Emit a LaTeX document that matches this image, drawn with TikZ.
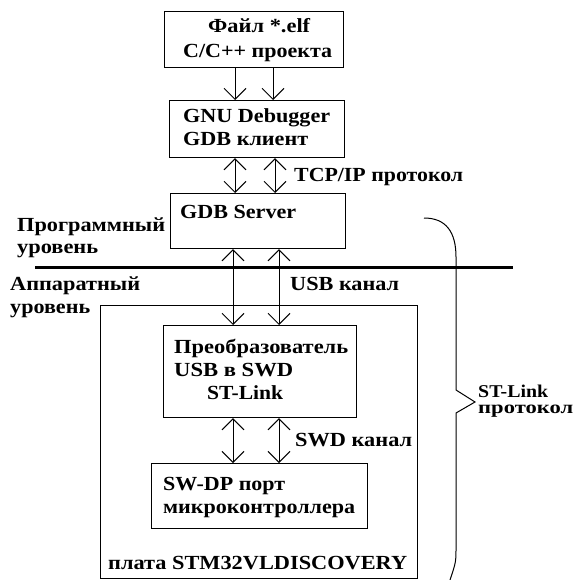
\documentclass[tikz,border=0pt]{standalone}
\usepackage{fontspec}
\usepackage{graphicx}
\setmainfont{Liberation Serif}
\usetikzlibrary{arrows.meta}
\newcommand\fitw[2]{\resizebox{#1pt}{\height}{#2}}
\tikzset{
  box/.style={draw, line width=1.1pt, inner sep=0pt, anchor=north west},
  txt/.style={anchor=base west, inner sep=0pt, font=\fontsize{20}{24}\selectfont\bfseries},
  bracetxt/.style={anchor=north west, inner sep=0pt, align=left, font=\fontsize{18}{16}\selectfont\bfseries},
  link/.style={line width=1pt, -{Straight Barb[length=11pt,width=22pt,line width=1pt]}},
  duplex/.style={line width=1pt, {Straight Barb[length=11pt,width=22pt,line width=1pt]}-{Straight Barb[length=11pt,width=22pt,line width=1pt]}},
}
\begin{document}
\begin{tikzpicture}[x=1pt,y=-1pt]
\useasboundingbox (0,0) rectangle (576,580);
% boxes
\node[box, minimum width=179pt, minimum height=56pt] (b1) at (164,11) {};
\node[box, minimum width=175pt, minimum height=57pt] (b2) at (169,100) {};
\node[box, minimum width=175pt, minimum height=55pt] (b3) at (170,193) {};
\node[box, minimum width=317pt, minimum height=273pt] (board) at (100,305) {};
\node[box, minimum width=193pt, minimum height=92pt] (b4) at (163,325) {};
\node[box, minimum width=216pt, minimum height=65pt] (b5) at (151,463) {};
% texts
\node[txt] (t1a) at (208,33) {\fitw{102}{Файл *.elf}};
\node[txt] (t1b) at (183,58) {\fitw{149}{C/C++ проекта}};
\node[txt] (t2a) at (183,123) {\fitw{147}{GNU Debugger}};
\node[txt] (t2b) at (183,146) {\fitw{125}{GDB клиент}};
\node[txt] (t3) at (180,218) {\fitw{116}{GDB Server}};
\node[txt] (tcp) at (294,182) {\fitw{169}{TCP/IP протокол}};
\node[txt] (pr1) at (17,231) {\fitw{148}{Программный}};
\node[txt] (pr2) at (17,253) {\fitw{81}{уровень}};
\node[txt] (ap1) at (10,290) {\fitw{130}{Аппаратный}};
\node[txt] (ap2) at (10,313) {\fitw{80}{уровень}};
\node[txt] (usb) at (290,290) {\fitw{109}{USB канал}};
\node[txt] (t4a) at (174,353) {\fitw{174}{Преобразователь}};
\node[txt] (t4b) at (174,376) {\fitw{119}{USB в SWD}};
\node[txt] (t4c) at (207,399) {\fitw{76}{ST-Link}};
\node[txt] (swd) at (295,446) {\fitw{117}{SWD канал}};
\node[txt] (t5a) at (163,490) {\fitw{122}{SW-DP порт}};
\node[txt] (t5b) at (163,513) {\fitw{192}{микроконтроллера}};
\node[txt] (tb) at (108,569) {\fitw{299}{плата STM32VLDISCOVERY}};
\node[bracetxt] (st) at (478,385) {\fitw{70}{ST-Link}\\\fitw{95}{протокол}};
% arrow columns
\coordinate (c1) at (235,0);
\coordinate (c2) at (273,0);
\coordinate (c3) at (275,0);
\coordinate (c4) at (233,0);
\coordinate (c5) at (279,0);
\draw[link] (c1 |- b1.south) -- (c1 |- b2.north);
\draw[link] (c2 |- b1.south) -- (c2 |- b2.north);
\draw[duplex] (c1 |- b2.south) -- (c1 |- b3.north);
\draw[duplex] (c3 |- b2.south) -- (c3 |- b3.north);
\draw[duplex] (c4 |- b3.south) -- (c4 |- b4.north);
\draw[duplex] (c5 |- b3.south) -- (c5 |- b4.north);
\draw[duplex] (c4 |- b4.south) -- (c4 |- b5.north);
\draw[duplex] (c5 |- b4.south) -- (c5 |- b5.north);
% level separator
\coordinate (s1) at (35,267);
\coordinate (s2) at (513,267);
\draw[line width=3pt] (s1) -- (s2);
% brace
\coordinate (br0) at (424,218);
\coordinate (br1) at (456,257);
\coordinate (br2) at (456,390);
\coordinate (brtip) at (475,402);
\coordinate (br3) at (456,413);
\coordinate (br4) at (456,547);
\coordinate (br5) at (450,580);
\draw[line width=1pt] (br0) .. controls (446,218) and (456,232) .. (br1) -- (br2) -- (brtip) -- (br3) -- (br4) .. controls (456,562) .. (br5);
\end{tikzpicture}
\end{document}
